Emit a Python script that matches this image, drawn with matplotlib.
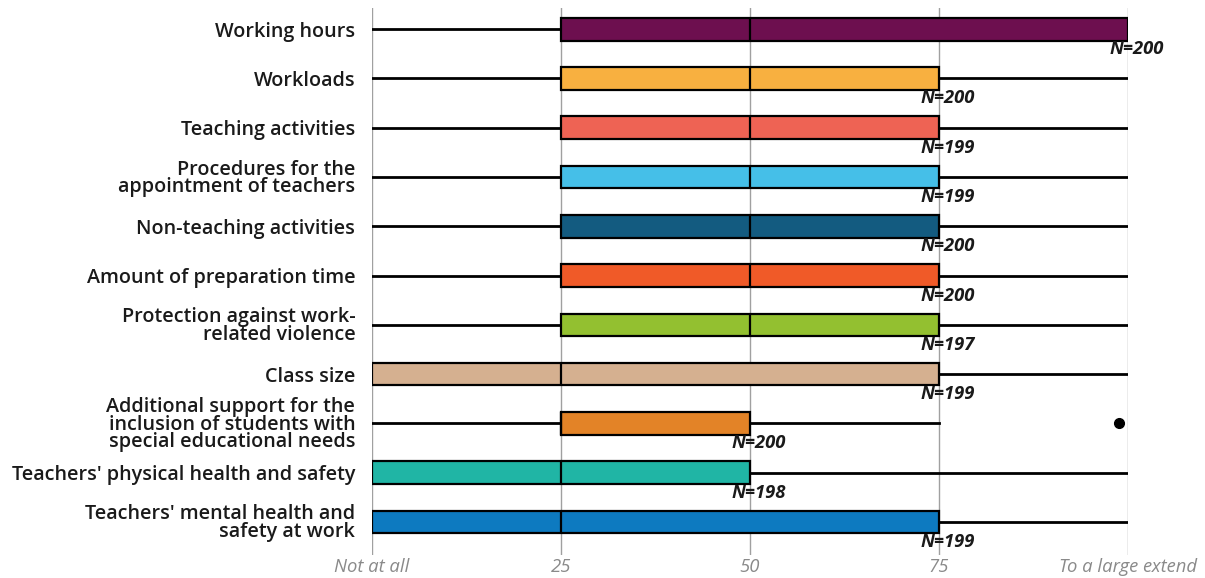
import os
import matplotlib
matplotlib.use("Agg")
import matplotlib.pyplot as plt
from matplotlib.font_manager import FontProperties

plt.rcParams['font.family'] = ['Open Sans', 'DejaVu Sans']

categories = [
    "Working hours",
    "Workloads",
    "Teaching activities",
    "Procedures for the\nappointment of teachers",
    "Non-teaching activities",
    "Amount of preparation time",
    "Protection against work-\nrelated violence",
    "Class size",
    "Additional support for the\ninclusion of students with\nspecial educational needs",
    "Teachers' physical health and safety",
    "Teachers' mental health and\nsafety at work",
]
mins    = [0, 0, 0, 0, 0, 0, 0, 0, 0, 0, 0]
q1s     = [25, 25, 25, 25, 25, 25, 25, 0, 25, 0, 0]
medians = [50, 50, 50, 50, 50, 50, 50, 25, 25, 25, 25]
q3s     = [100, 75, 75, 75, 75, 75, 75, 75, 50, 50, 75]
maxs    = [100, 100, 100, 100, 100, 100, 100, 100, 75, 100, 100]
outliers = [[], [], [], [], [], [], [], [], [98.8], [], []]
ns = [200, 200, 199, 199, 200, 200, 197, 199, 200, 198, 199]
colors = ["#6D0F4F", "#F8B040", "#EE6354", "#45BFE8", "#135B80", "#F05A28",
          "#93C030", "#D5B090", "#E38327", "#20B5A5", "#0D7AC0"]
tick_vals = [0, 25, 50, 75, 100]
tick_labels = ["Not at all", "25", "50", "75", "To a large extend"]


def font(fname, size, fallback_weight, fallback_style):
    path = os.path.join("/usr/share/fonts/truetype/open-sans", fname)
    if os.path.exists(path):
        return FontProperties(fname=path, size=size)
    return FontProperties(family='DejaVu Sans', size=size,
                          weight=fallback_weight, style=fallback_style)


fp_n = font("OpenSans-BoldItalic.ttf", 13.2, 'bold', 'italic')
fp_tick = font("OpenSans-Italic.ttf", 13.3, 'normal', 'italic')
fp_cat = font("OpenSans-Semibold.ttf", 14.2, 'bold', 'normal')

fig = plt.figure(figsize=(12.05, 5.78), dpi=100)
ax = fig.add_axes([372/1205, 1-555/578, (1128-372)/1205, (555-8)/578])

positions = list(range(len(categories)))
stats = []
for i in positions:
    stats.append(dict(whislo=mins[i], q1=q1s[i], med=medians[i], q3=q3s[i],
                      whishi=maxs[i], fliers=outliers[i]))

bp = ax.bxp(stats, positions=positions, orientation='horizontal', widths=0.46,
            patch_artist=True, showcaps=False,
            boxprops=dict(edgecolor='black', linewidth=1.6),
            medianprops=dict(color='black', linewidth=1.6),
            whiskerprops=dict(color='black', linewidth=2),
            flierprops=dict(marker='o', markerfacecolor='black',
                            markeredgecolor='black', markersize=7))
for patch, c in zip(bp['boxes'], colors):
    patch.set_facecolor(c)
for w in bp['whiskers']:
    w.set_zorder(2)
for b in bp['boxes']:
    b.set_zorder(3)
for m in bp['medians']:
    m.set_zorder(4)

for i in positions:
    ax.annotate(f"N={ns[i]}", xy=(q3s[i], i), xytext=(9, -20),
                textcoords='offset pixels', ha='center', va='center',
                fontproperties=fp_n, color='#1a1a1a')

ax.set_xlim(0, 100)
ax.set_ylim(10.67, -0.43)
ax.set_xticks(tick_vals)
ax.set_xticklabels(tick_labels, fontproperties=fp_tick, color='#8a8a8a')
ax.set_yticks(positions)
ax.set_yticklabels(categories, fontproperties=fp_cat, color='#1a1a1a',
                   linespacing=0.82)
ax.tick_params(axis='both', length=0)
ax.tick_params(axis='y', pad=12)
ax.tick_params(axis='x', pad=2)
for s in ax.spines.values():
    s.set_visible(False)
ax.grid(axis='x', color='#a0a0a0', linewidth=1)
ax.set_axisbelow(True)

fig.savefig("out.png", dpi=100)
